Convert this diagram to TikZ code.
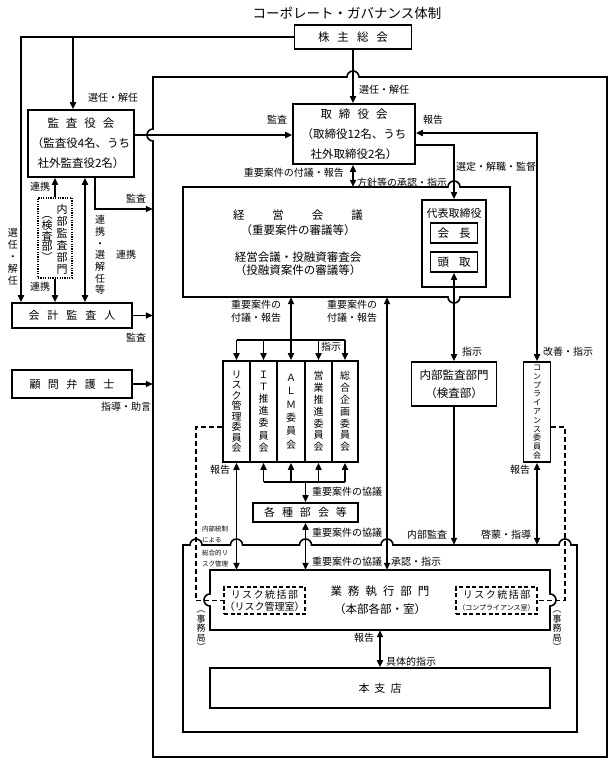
\documentclass[tikz,border=0pt]{standalone}
\usepackage{fontspec}
\setmainfont{Noto Sans CJK JP}
\usetikzlibrary{arrows.meta,calc}
\begin{document}
\begin{tikzpicture}[x=1pt,y=-1pt,
  >={Triangle[length=7pt,width=6pt]},
  ln/.style={line width=1.6pt},
  box/.style={draw,line width=1.6pt,inner sep=0pt,align=center,font=\fontsize{11.5}{20}\selectfont},
  lab/.style={inner sep=0pt,font=\fontsize{10}{13}\selectfont},
  vlab/.style={inner sep=0pt,align=center},
  dbox/.style={draw,line width=1.6pt,dash pattern=on 4pt off 2.5pt,inner sep=0pt,align=center},
  dline/.style={line width=1.6pt,dash pattern=on 5pt off 3pt},
  small/.style={inner sep=0pt,anchor=west,font=\fontsize{6.5}{7}\selectfont},
]
\useasboundingbox (0,0) rectangle (614,765);

% title
\node[inner sep=0pt,font=\fontsize{13.5}{14}\selectfont] (title) at (347,13) {コーポレート・ガバナンス体制};

% boxes
\node[box,minimum width=117pt,minimum height=24pt] (kabu) at (353,37) {株\hspace{8pt}主\hspace{8pt}総\hspace{8pt}会};
\node[box,minimum width=106pt,minimum height=67pt] (kansa) at (81,143.5) {監\hspace{7pt}査\hspace{7pt}役\hspace{7pt}会\\（監査役4名、うち\\社外監査役2名）};
\node[box,minimum width=122pt,minimum height=60pt] (tori) at (354,134) {取\hspace{7pt}締\hspace{7pt}役\hspace{7pt}会\\（取締役12名、うち\\社外取締役2名）};

\node[minimum width=327pt,minimum height=110pt,inner sep=0pt] (keiei) at (346.5,242) {};
\draw[ln] (183,187) -- (448,187) arc[start angle=180,end angle=360,radius=6] -- (510,187) -- (510,297) -- (460,297) arc[start angle=0,end angle=180,radius=6] -- (183,297) -- cycle;
\node[vlab,font=\fontsize{11.5}{15}\selectfont] (keieiA) at (298,222.5) {経\hspace{28pt}営\hspace{28pt}会\hspace{28pt}議\\（重要案件の審議等）};
\node[vlab,font=\fontsize{11.5}{13.5}\selectfont] (keieiB) at (298,263.5) {経営会議・投融資審査会\\（投融資案件の審議等）};

\node[box,minimum width=64pt,minimum height=87pt] (daihyo) at (454,243.5) {};
\node[inner sep=0pt,font=\fontsize{11}{12}\selectfont] (daihyoT) at (454,213) {代表取締役};
\node[box,minimum width=47pt,minimum height=20pt] (kaicho) at (454,233) {会\hspace{10pt}長};
\node[box,minimum width=47pt,minimum height=20pt] (todori) at (454,262) {頭\hspace{10pt}取};

% committees
\node[box,minimum width=27pt,minimum height=101pt,font=\fontsize{10}{10.5}\selectfont] (c1) at (236.5,411.5) {リ\\ス\\ク\\管\\理\\委\\員\\会};
\node[box,minimum width=27pt,minimum height=101pt,font=\fontsize{10}{12.2}\selectfont] (c2) at (263.5,411.5) {Ｉ\\Ｔ\\推\\進\\委\\員\\会};
\node[box,minimum width=28pt,minimum height=101pt,font=\fontsize{10}{13.4}\selectfont] (c3) at (291,411.5) {Ａ\\Ｌ\\Ｍ\\委\\員\\会};
\node[box,minimum width=27pt,minimum height=101pt,font=\fontsize{10}{11.8}\selectfont] (c4) at (318.5,411.5) {営\\業\\推\\進\\委\\員\\会};
\node[box,minimum width=26pt,minimum height=101pt,font=\fontsize{10}{11.8}\selectfont] (c5) at (345,411.5) {総\\合\\企\\画\\委\\員\\会};

\node[box,minimum width=105pt,minimum height=19pt,font=\fontsize{11}{12}\selectfont] (kakushu) at (305.5,512.5) {各\hspace{7pt}種\hspace{7pt}部\hspace{7pt}会\hspace{7pt}等};
\node[box,minimum width=85pt,minimum height=44pt,font=\fontsize{11.5}{18}\selectfont] (naibu) at (454,384) {内部監査部門\\（検査部）};
\node[box,minimum width=27pt,minimum height=100pt,font=\fontsize{8}{8.8}\selectfont] (comp) at (537,412) {コ\\ン\\プ\\ラ\\イ\\ア\\ン\\ス\\委\\員\\会};

% inner area
\node[minimum width=394pt,minimum height=187pt,inner sep=0pt] (inner) at (380,638.5) {};
\draw[ln] (183,545) -- (190,545) arc[start angle=180,end angle=360,radius=6]
  -- (230.5,545) arc[start angle=180,end angle=360,radius=6]
  -- (299.5,545) arc[start angle=180,end angle=360,radius=6]
  -- (381,545) arc[start angle=180,end angle=360,radius=6]
  -- (559,545) arc[start angle=180,end angle=360,radius=6]
  -- (577,545) -- (577,732) -- (183,732) -- cycle;

\node[align=center,inner sep=0pt,minimum width=340pt,minimum height=60pt,font=\fontsize{11.5}{18}\selectfont] (gyomu) at (380,600) {業\hspace{6pt}務\hspace{6pt}執\hspace{6pt}行\hspace{6pt}部\hspace{6pt}門\\（本部各部・室）};
\draw[ln] (210,570) -- (550,570) -- (550,594) arc[start angle=270,end angle=450,radius=6] -- (550,630) -- (210,630) -- (210,606) arc[start angle=90,end angle=270,radius=6] -- cycle;

\node[dbox,minimum width=81pt,minimum height=27pt,font=\fontsize{10}{12}\selectfont] (risk1) at (264.5,600.5) {リ\hspace{1.5pt}ス\hspace{1.5pt}ク\hspace{1.5pt}統\hspace{1.5pt}括\hspace{1.5pt}部\\（リスク管理室）};
\node[dbox,minimum width=81pt,minimum height=27pt,font=\fontsize{10}{12}\selectfont] (risk2) at (496.5,600.5) {リ\hspace{1.5pt}ス\hspace{1.5pt}ク\hspace{1.5pt}統\hspace{1.5pt}括\hspace{1.5pt}部\\{\fontsize{7}{8}\selectfont（コンプライアンス室）}};
\node[box,minimum width=340pt,minimum height=40pt,font=\fontsize{11}{12}\selectfont] (honshiten) at (380,688) {本\hspace{5pt}支\hspace{5pt}店};

% left side
\node[box,minimum width=120pt,minimum height=25pt,font=\fontsize{11}{12}\selectfont] (kaikei) at (72,315.5) {会\hspace{8pt}計\hspace{8pt}監\hspace{8pt}査\hspace{8pt}人};
\node[box,minimum width=120pt,minimum height=28pt,font=\fontsize{11}{12}\selectfont] (komon) at (72,384) {顧\hspace{7.5pt}問\hspace{7.5pt}弁\hspace{7.5pt}護\hspace{7.5pt}士};
\node[draw,line width=1.2pt,dash pattern=on 1.2pt off 1.2pt,minimum width=34pt,minimum height=80pt,inner sep=0pt] (naibuL) at (55,238) {};
\node[vlab,font=\fontsize{11}{12}\selectfont] (naibuLa) at (62,239) {内\\部\\監\\査\\部\\門};
\node[vlab,font=\fontsize{11}{10}\selectfont] (naibuLb) at (47,239) {︵\\検\\査\\部\\︶};

% outer area
\node[minimum width=454pt,minimum height=680pt,inner sep=0pt] (outer) at (380,417) {};
\draw[ln] (153,77) -- (347,77) arc[start angle=180,end angle=360,radius=6] -- (607,77) -- (607,757) -- (153,757) -- (153,141) arc[start angle=90,end angle=270,radius=6] -- cycle;

% connectors
\coordinate (kL) at (21,37);
\coordinate (kB) at (73,37);
\draw[ln,->] (kabu.west) -- (kL) -- (kL |- kaikei.north);
\draw[ln,->] (kB) -- (kB |- kansa.north);
\draw[ln,->] (kabu.south) -- (kabu.south |- tori.north);
\coordinate (y135) at (0,135);
\draw[ln,->] (kansa.east |- y135) -- (tori.west |- y135);
\coordinate (sel) at (454,145);
\draw[ln,->] (tori.east |- sel) -- (sel) -- (daihyo.north);
\coordinate (rep) at (537,133);
\draw[ln,<->] (tori.east |- rep) -- (rep) -- (comp.north);
\coordinate (x353) at (353,0);
\draw[ln,<->] (x353 |- tori.south) -- (x353 |- keiei.north);
\draw[ln,<->] (naibu.north) -- (todori.south);
\draw[ln,<->] (c3.north |- keiei.south) -- (c3.north);
\coordinate (bar1) at (0,340);
\draw[ln] (c1.north |- bar1) -- (c5.north |- bar1);
\foreach \c in {c1,c2,c4,c5} \draw[ln,->] (\c.north |- bar1) -- (\c.north);
\coordinate (bar2) at (0,482);
\draw[ln] (c2.south |- bar2) -- (c5.south |- bar2);
\foreach \c in {c2,c3,c4,c5} \draw[ln,->] (\c.south |- bar2) -- (\c.south);
\draw[ln,->] (kakushu.north |- bar2) -- (kakushu.north);
\draw[ln,<->] (kakushu.south) -- (kakushu.south |- gyomu.north);
\draw[ln,<->] (c1.south) -- (c1.south |- gyomu.north);
\coordinate (x387) at (387,0);
\draw[ln,<->] (x387 |- keiei.south) -- (x387 |- gyomu.north);
\draw[ln,->] (naibu.south) -- (naibu.south |- inner.north);
\draw[ln,<->] (comp.south) -- (comp.south |- inner.north);
\draw[ln,<->] (gyomu.south) -- (gyomu.south |- honshiten.north);
\coordinate (dl) at (196,427);
\coordinate (dr) at (565,427);
\draw[dline] (c1.west |- dl) -- (dl) -- (dl |- risk1.west) -- (risk1.west);
\draw[dline] (comp.east |- dr) -- (dr) -- (dr |- risk2.east) -- (risk2.east);
\coordinate (ka) at (95,209);
\draw[ln,->] (kansa.south -| ka) -- (ka) -- (outer.west |- ka);
\draw[ln,->] (naibuL.north) -- (naibuL.north |- kansa.south);
\draw[ln,->] (naibuL.south) -- (naibuL.south |- kaikei.north);
\coordinate (x85) at (85,0);
\draw[ln,<->] (x85 |- kansa.south) -- (x85 |- kaikei.north);
\draw[ln,->] (kaikei.east) -- (outer.west |- kaikei.east);
\draw[ln,->] (komon.east) -- (outer.west |- komon.east);

% labels
\node[lab] (l1) at (113,98) {選任・解任};
\node[lab,anchor=west] (l2) at (359,90) {選任・解任};
\node[lab] (l3) at (277,120) {監査};
\node[lab] (l4) at (433,120) {報告};
\node[lab,anchor=west] (l5) at (456,167) {選定・解職・監督};
\node[lab,anchor=east] (l6) at (344,173) {重要案件の付議・報告};
\node[lab,anchor=west] (l7) at (357,183) {方針等の承認・指示};
\node[lab] (l8) at (40,187) {連携};
\node[lab] (l9) at (40,287) {連携};
\node[lab] (l10) at (136,199) {監査};
\node[vlab,font=\fontsize{10}{12}\selectfont] (l11) at (13,257) {選\\任\\・\\解\\任};
\node[vlab,font=\fontsize{10}{11.7}\selectfont] (l12) at (100,255) {連\\携\\・\\選\\解\\任\\等};
\node[lab] (l13) at (126,255) {連携};
\node[lab] (l14) at (136,338) {監査};
\node[lab] (l15) at (126,407) {指導・助言};
\node[lab,align=center] (l16) at (256,311) {重要案件の\\付議・報告};
\node[lab,align=center] (l17) at (352,311) {重要案件の\\付議・報告};
\node[lab] (l18) at (331,347) {指示};
\node[lab,anchor=west] (l19) at (462,352) {指示};
\node[lab,anchor=west] (l20) at (543,352) {改善・指示};
\node[lab] (l21) at (220,470) {報告};
\node[lab] (l22) at (520,470) {報告};
\node[lab,anchor=west] (l23) at (312,492) {重要案件の協議};
\node[lab,anchor=west] (l24) at (312,533) {重要案件の協議};
\node[lab,anchor=west] (l25) at (312,562) {重要案件の協議};
\node[lab] (l26) at (427,535) {内部監査};
\node[lab] (l27) at (506,535) {啓蒙・指導};
\node[lab,anchor=west] (l28) at (391,562) {承認・指示};
\node[small] (s1) at (202,529) {内部統制};
\node[small] (s2) at (202,540) {による};
\node[small] (s3) at (202,553) {総合的リ};
\node[small] (s4) at (202,564) {スク管理};
\node[vlab,font=\fontsize{9}{9.5}\selectfont] (j1) at (201,631) {︵\\事\\務\\局\\︶};
\node[vlab,font=\fontsize{9}{9.5}\selectfont] (j2) at (557,631) {︵\\事\\務\\局\\︶};
\node[lab] (l29) at (364,638) {報告};
\node[lab,anchor=west] (l30) at (386,662) {具体的指示};
\end{tikzpicture}
\end{document}
